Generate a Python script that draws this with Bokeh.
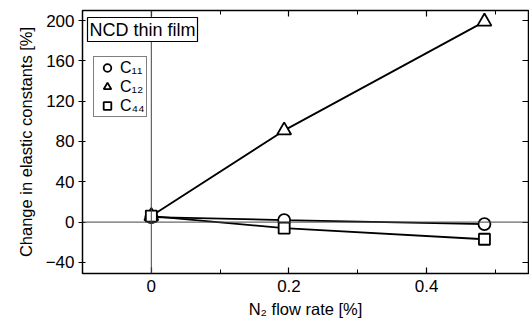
from bokeh.plotting import figure
from bokeh.models import Span, Label, Legend, LegendItem, FixedTicker, Range1d, LinearAxis
from bokeh.embed import file_html
from bokeh.resources import INLINE

# data
flow = [0.0, 0.193, 0.484]
c11 = [5, 2, -2]
c12 = [6, 91, 199]
c44 = [6, -6, -17]
x_ticks = [0, 0.2, 0.4]
x_minor = [-0.1, 0.1, 0.3, 0.5]
y_ticks = [-40, 0, 40, 80, 120, 160, 200]

FONT = "Liberation Sans"

p = figure(width=529, height=320, output_backend="svg", toolbar_location=None,
           x_range=Range1d(-0.1, 0.548), y_range=Range1d(-51, 210),
           min_border_left=82, min_border_right=1, min_border_top=10, min_border_bottom=47)
p.grid.visible = False
p.outline_line_color = "black"
p.outline_line_width = 1.5
p.background_fill_color = "white"
p.border_fill_color = "white"

# zero lines
p.add_layout(Span(location=0, dimension="width", line_color="#444444", line_width=1))
p.add_layout(Span(location=0, dimension="height", line_color="#444444", line_width=1))

for ys in (c11, c12, c44):
    p.line(flow, ys, line_color="black", line_width=1.8)

items = []
for ys, marker, size, lab in [(c11, "circle", 12, "C₁₁"), (c12, "triangle", 14, "C₁₂"), (c44, "square", 11, "C₄₄")]:
    r = p.scatter(flow, ys, marker=marker, size=size, fill_color="white",
                  line_color="black", line_width=1.8)
    items.append(LegendItem(label=lab, renderers=[r]))

legend = Legend(items=items, location=(11, 156), label_text_font=FONT,
                label_text_font_size="16px", label_text_color="black",
                glyph_height=19, glyph_width=24,
                label_height=19, spacing=0, padding=1, margin=0,
                border_line_color="black", border_line_width=1.2,
                label_standoff=1)
p.add_layout(legend, "center")

p.add_layout(Label(x=5, y=232, x_units="screen", y_units="screen", text="NCD thin film",
                   text_font=FONT, text_font_size="18px", text_color="black",
                   border_line_color="black", border_line_width=1.2,
                   background_fill_color="white", padding=2))

xa = p.below[0]
ya = p.left[0]

for ax in (xa, ya):
    ax.axis_line_color = "black"
    ax.major_tick_line_color = "black"
    ax.minor_tick_line_color = "black"
    ax.major_tick_line_width = 1.2
    ax.major_label_text_font = FONT
    ax.major_label_text_font_size = "17px"
    ax.major_label_text_color = "black"
    ax.axis_label_text_font = FONT
    ax.axis_label_text_font_size = "16.5px"
    ax.axis_label_text_font_style = "normal"
    ax.axis_label_text_color = "black"

xa.ticker = FixedTicker(ticks=x_ticks, minor_ticks=x_minor)
xa.major_label_overrides = {0: "0", 0.2: "0.2", 0.4: "0.4"}
xa.major_tick_in = 6
xa.major_tick_out = 0
xa.minor_tick_in = 4
xa.minor_tick_out = 0
xa.axis_label = "N₂ flow rate [%]"
xa.major_label_standoff = 6
xa.axis_label_standoff = 5

ya.ticker = FixedTicker(ticks=y_ticks, minor_ticks=[])
ya.major_tick_in = 3
ya.major_tick_out = 4
ya.axis_label = "Change in elastic constants [%]"
ya.major_label_standoff = 4
ya.axis_label_standoff = 8

# mirrored tick marks (no labels)
top = LinearAxis(ticker=FixedTicker(ticks=x_ticks, minor_ticks=x_minor),
                 major_label_overrides={t: "" for t in x_ticks})
right = LinearAxis(ticker=FixedTicker(ticks=y_ticks, minor_ticks=[]),
                   major_label_overrides={t: "" for t in y_ticks})
for ax in (top, right):
    ax.major_label_standoff = 0
    ax.major_tick_out = 0
    ax.minor_tick_out = 0
    ax.major_tick_in = 6
    ax.minor_tick_in = 4
    ax.axis_line_color = None
    ax.major_tick_line_color = "black"
    ax.minor_tick_line_color = "black"
    ax.major_tick_line_width = 1.2
p.add_layout(top, "above")
p.add_layout(right, "right")

out = file_html(p, INLINE)
open("out.html", "w").write(out)
